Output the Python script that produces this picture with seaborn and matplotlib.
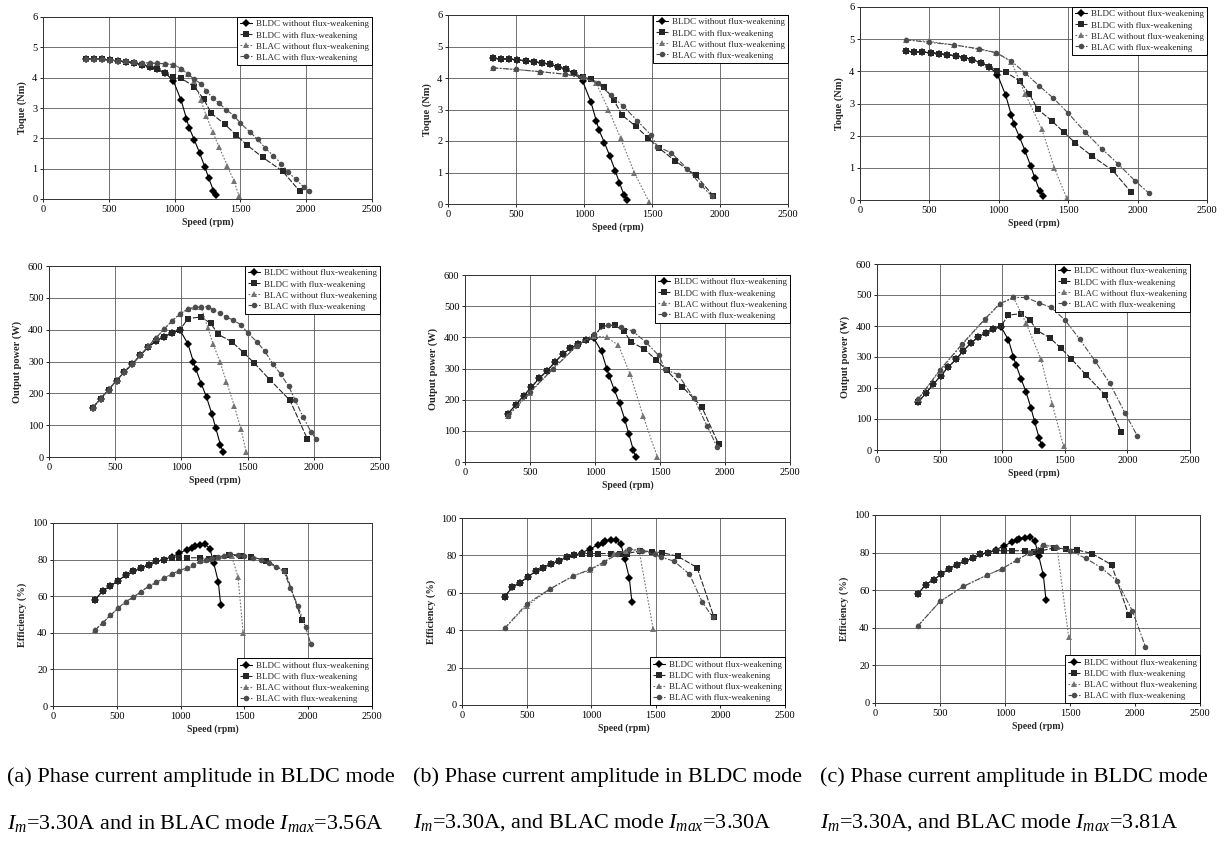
import numpy as np
import pandas as pd
import seaborn as sns
import matplotlib
matplotlib.use("Agg")
import matplotlib.pyplot as plt

# ---- data ----
series_names = ["BLDC without flux-weakening", "BLDC with flux-weakening",
                "BLAC without flux-weakening", "BLAC with flux-weakening"]

# BLDC mode (Im = 3.30A), same in all three columns
spd_dc = [330, 390, 450, 510, 570, 630, 690, 750, 810, 870, 930, 990, 1050, 1090, 1110, 1150, 1190, 1230, 1260, 1295, 1315]
trq_dc = [4.62, 4.61, 4.6, 4.58, 4.55, 4.52, 4.48, 4.43, 4.36, 4.27, 4.15, 3.9, 3.25, 2.65, 2.35, 1.95, 1.52, 1.05, 0.68, 0.28, 0.12]
pow_dc = [155, 183, 212, 240, 268, 292, 320, 345, 365, 378, 390, 398, 355, 300, 275, 230, 188, 135, 90, 38, 15]
eff_dc = [58, 63, 65.5, 68.5, 71.5, 73.5, 75.5, 77, 79, 80, 81.5, 83.5, 85.5, 86.5, 87.5, 88, 88.5, 86, 78, 68, 55]

spd_dcfw = [330, 390, 450, 510, 570, 630, 690, 750, 810, 870, 930, 990, 1050, 1150, 1220, 1280, 1380, 1470, 1550, 1670, 1820, 1950]
trq_dcfw = [4.62, 4.61, 4.6, 4.58, 4.55, 4.52, 4.48, 4.43, 4.36, 4.27, 4.15, 4.02, 3.98, 3.7, 3.3, 2.82, 2.47, 2.1, 1.78, 1.37, 0.92, 0.26]
pow_dcfw = [155, 183, 212, 240, 268, 292, 320, 345, 365, 378, 390, 400, 435, 440, 420, 385, 362, 328, 295, 242, 178, 58]
eff_dcfw = [58, 63, 65.5, 68.5, 71.5, 73.5, 75.5, 77, 79, 80, 81, 81, 81, 81, 80.5, 81, 82.5, 82, 81.5, 79.5, 73.5, 47]

# (a) BLAC mode Imax = 3.56A
spd_a_ac = [330, 390, 450, 510, 570, 630, 690, 750, 810, 870, 930, 990, 1050, 1100, 1150, 1200, 1240, 1290, 1340, 1400, 1450, 1490]
trq_a_ac = [4.62, 4.61, 4.6, 4.58, 4.56, 4.54, 4.52, 4.5, 4.48, 4.47, 4.46, 4.43, 4.3, 4.12, 3.9, 3.25, 2.75, 2.2, 1.7, 1.1, 0.6, 0.1]
pow_a_ac = [155, 183, 212, 240, 268, 292, 320, 348, 375, 402, 428, 450, 465, 470, 470, 405, 355, 300, 237, 160, 87, 15]
eff_a_ac = [41.5, 45.5, 49.5, 53.5, 57, 59.5, 62.5, 65.5, 67.5, 70, 72, 74, 75.5, 77, 79, 80, 80.5, 81, 82, 82, 70.5, 40]

spd_a_acfw = [330, 390, 450, 510, 570, 630, 690, 750, 810, 870, 930, 990, 1050, 1100, 1150, 1200, 1240, 1290, 1340, 1390, 1450, 1500, 1570, 1630, 1690, 1750, 1810, 1860, 1920, 1980, 2020]
trq_a_acfw = [4.62, 4.61, 4.6, 4.58, 4.56, 4.54, 4.52, 4.5, 4.48, 4.47, 4.46, 4.43, 4.3, 4.12, 3.95, 3.8, 3.57, 3.33, 3.15, 2.95, 2.75, 2.5, 2.22, 1.97, 1.67, 1.43, 1.17, 0.9, 0.65, 0.4, 0.27]
pow_a_acfw = [155, 183, 212, 240, 268, 292, 320, 348, 375, 402, 428, 450, 465, 470, 472, 472, 462, 452, 440, 430, 415, 390, 362, 332, 293, 260, 222, 178, 125, 78, 55]
eff_a_acfw = [41.5, 45.5, 49.5, 53.5, 57, 59.5, 62.5, 65.5, 67.5, 70, 72, 74, 75.5, 77, 79, 80, 80.5, 81.5, 82, 83, 82.5, 82, 81, 80, 78, 76, 73.5, 64.5, 54.5, 43, 34]

# (b) BLAC mode Imax = 3.30A
spd_b_ac = [330, 500, 680, 860, 990, 1090, 1180, 1270, 1370, 1480]
trq_b_ac = [4.32, 4.27, 4.2, 4.12, 4.02, 3.83, 3.0, 2.08, 1.0, 0.05]
pow_b_ac = [148, 222, 300, 373, 405, 400, 375, 282, 148, 15]
eff_b_ac = [41, 53, 62, 69, 72, 76, 80.5, 82.5, 83, 40.5]

spd_b_acfw = [330, 500, 680, 860, 990, 1100, 1200, 1290, 1390, 1490, 1540, 1640, 1760, 1860, 1940]
trq_b_acfw = [4.32, 4.27, 4.2, 4.12, 4.02, 3.83, 3.45, 3.1, 2.65, 2.2, 1.82, 1.63, 1.12, 0.6, 0.25]
pow_b_acfw = [148, 225, 300, 372, 410, 440, 432, 420, 385, 342, 297, 280, 205, 117, 48]
eff_b_acfw = [41, 54, 62, 69, 72.5, 76.5, 80.5, 83.5, 82.5, 80.5, 79, 77, 70, 55, 47]

# (c) BLAC mode Imax = 3.81A
spd_c_ac = [330, 500, 680, 860, 980, 1090, 1190, 1310, 1400, 1490]
trq_c_ac = [4.98, 4.93, 4.82, 4.68, 4.58, 4.3, 3.3, 2.2, 1.0, 0.05]
pow_c_ac = [165, 255, 340, 420, 470, 492, 410, 292, 148, 12]
eff_c_ac = [41, 54, 62, 68, 71.5, 76, 80, 84, 83, 35]

spd_c_acfw = [330, 500, 680, 860, 980, 1090, 1190, 1290, 1390, 1500, 1620, 1740, 1860, 1980, 2080]
trq_c_acfw = [4.98, 4.9, 4.82, 4.7, 4.58, 4.32, 3.95, 3.55, 3.18, 2.7, 2.12, 1.6, 1.12, 0.6, 0.22]
pow_c_acfw = [165, 257, 342, 422, 472, 492, 492, 475, 460, 420, 357, 288, 215, 120, 45]
eff_c_acfw = [41, 54, 62, 68, 71.5, 76, 80, 84, 83, 81, 77, 72, 65, 49, 30]

captions = [
    ("(a) Phase current amplitude in BLDC mode", "$I_m$=3.30A and in BLAC mode $I_{max}$=3.56A"),
    ("(b) Phase current amplitude in BLDC mode", "$I_m$=3.30A, and BLAC mode $I_{max}$=3.30A"),
    ("(c) Phase current amplitude in BLDC mode", "$I_m$=3.30A, and BLAC mode $I_{max}$=3.81A"),
]

columns = [
    [(spd_dc, trq_dc, pow_dc, eff_dc), (spd_dcfw, trq_dcfw, pow_dcfw, eff_dcfw),
     (spd_a_ac, trq_a_ac, pow_a_ac, eff_a_ac), (spd_a_acfw, trq_a_acfw, pow_a_acfw, eff_a_acfw)],
    [(spd_dc, trq_dc, pow_dc, eff_dc), (spd_dcfw, trq_dcfw, pow_dcfw, eff_dcfw),
     (spd_b_ac, trq_b_ac, pow_b_ac, eff_b_ac), (spd_b_acfw, trq_b_acfw, pow_b_acfw, eff_b_acfw)],
    [(spd_dc, trq_dc, pow_dc, eff_dc), (spd_dcfw, trq_dcfw, pow_dcfw, eff_dcfw),
     (spd_c_ac, trq_c_ac, pow_c_ac, eff_c_ac), (spd_c_acfw, trq_c_acfw, pow_c_acfw, eff_c_acfw)],
]

row_labels = ["Toque (Nm)", "Output power (W)", "Efficiency (%)"]
row_ylim = [(0, 6), (0, 600), (0, 100)]
row_yticks = [np.arange(0, 7, 1), np.arange(0, 700, 100), np.arange(0, 120, 20)]

# axes boxes in pixels: left, right, top, bottom
boxes = [
    [(43, 372, 17, 199), (448, 788, 15, 204), (860, 1207, 7, 200)],
    [(49, 380, 266, 457), (465, 790, 275, 462), (877, 1190, 264, 450)],
    [(53, 372, 523, 706), (462, 785, 518, 705), (875, 1200, 515, 703)],
]

sns.set_theme(style="white")
plt.rcParams["font.family"] = ["Liberation Serif", "DejaVu Serif"]
plt.rcParams["mathtext.fontset"] = "custom"
plt.rcParams["mathtext.rm"] = "Liberation Serif"
plt.rcParams["mathtext.it"] = "Liberation Serif:italic"

palette = {series_names[0]: "black", series_names[1]: "0.15",
           series_names[2]: "0.45", series_names[3]: "0.3"}
dashes = {series_names[0]: "", series_names[1]: (5, 1.5),
          series_names[2]: (1.5, 1.5), series_names[3]: (5, 1.5, 1.5, 1.5)}
markers = {series_names[0]: "D", series_names[1]: "s",
           series_names[2]: "^", series_names[3]: "o"}

W, H = 1226, 841
fig = plt.figure(figsize=(W / 100, H / 100), dpi=100)

for c in range(3):
    for r in range(3):
        rows = []
        for name, s in zip(series_names, columns[c]):
            for x, y in zip(s[0], s[r + 1]):
                rows.append({"speed": x, "val": y, "series": name})
        df = pd.DataFrame(rows)

        l, rr, t, b = boxes[r][c]
        ax = fig.add_axes([l / W, 1 - b / H, (rr - l) / W, (b - t) / H])
        sns.lineplot(data=df, x="speed", y="val", hue="series", style="series",
                     hue_order=series_names, style_order=series_names,
                     palette=palette, dashes=dashes, markers=markers,
                     markersize=4, markeredgewidth=0, linewidth=0.8,
                     sort=False, estimator=None, ax=ax)
        leg = ax.get_legend()
        handles = leg.legend_handles
        labels = [tt.get_text() for tt in leg.get_texts()]
        ax.legend(handles, labels, loc="upper right" if r < 2 else "lower right",
                  fontsize=6.5, frameon=True, fancybox=False, edgecolor="black",
                  framealpha=1, borderaxespad=0, handlelength=1.4,
                  labelspacing=0.3, borderpad=0.35, handletextpad=0.4)
        ax.get_legend().get_frame().set_linewidth(0.7)

        ax.set_xlim(0, 2500)
        ax.set_xticks(np.arange(0, 3000, 500))
        ax.set_ylim(*row_ylim[r])
        ax.set_yticks(row_yticks[r])
        ax.grid(True, color="0.35", lw=0.6)
        ax.tick_params(labelsize=7.5, length=2, width=0.6, pad=2,
                       bottom=True, left=True, colors="black")
        ax.set_xlabel("Speed (rpm)", fontsize=7, fontweight="bold", labelpad=3)
        ax.set_ylabel(row_labels[r], fontsize=7.5, fontweight="bold", labelpad=4)
        for sp in ax.spines.values():
            sp.set_color("0.2")
            sp.set_linewidth(0.7)

# captions
cap_x = [7, 413, 820]
for c in range(3):
    fig.text(cap_x[c] / W, 1 - 777 / H, captions[c][0], fontsize=16,
             ha="left", va="center", color="black")
    fig.text(cap_x[c] / W, 1 - 823 / H, captions[c][1], fontsize=16,
             ha="left", va="center", color="black")

fig.savefig("out.png", dpi=100, facecolor="white")
